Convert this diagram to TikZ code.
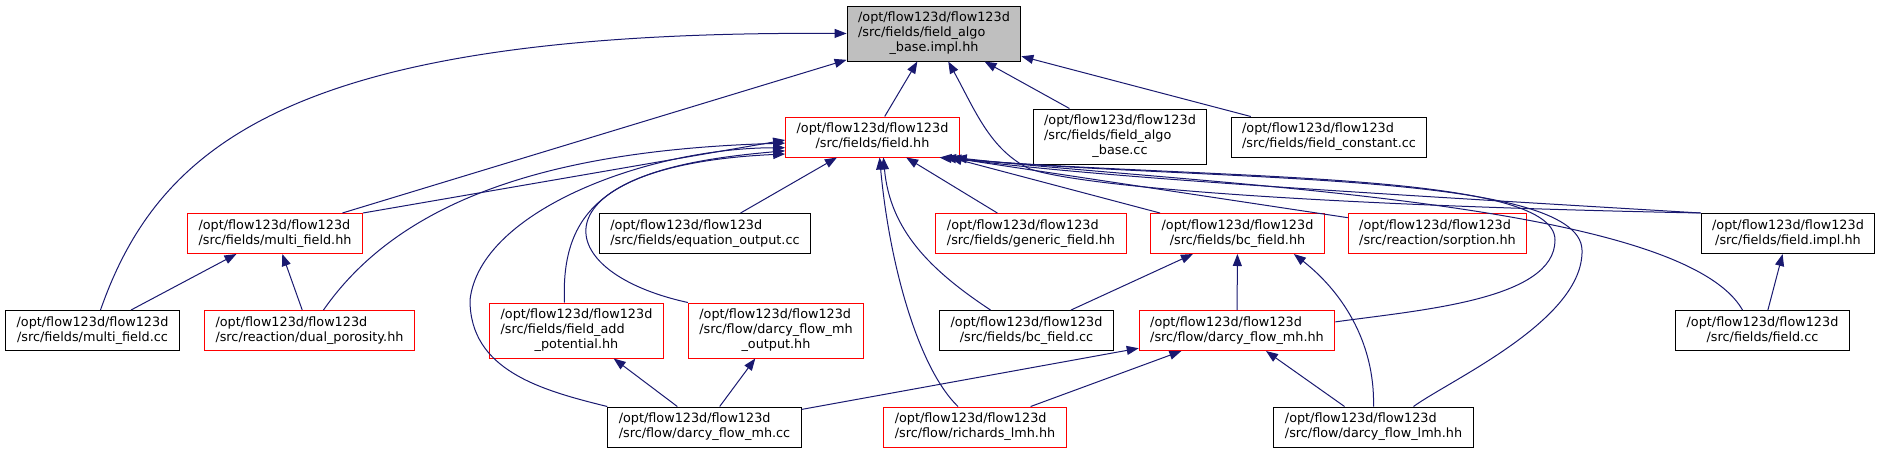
\documentclass[tikz,border=0pt]{standalone}
\usepackage{fontspec}
\setmainfont{DejaVu Sans}
\usetikzlibrary{arrows.meta}
\definecolor{edgeblue}{HTML}{191970}
\definecolor{boxred}{HTML}{FF0000}
\definecolor{rootgray}{HTML}{BFBFBF}
\newcommand{\optpath}{/opt/flow123d/flow123d}
\newcommand{\twol}[2]{\begin{tabular}{@{}c@{}}\multicolumn{1}{@{}l@{}}{#1}\\#2\end{tabular}}
\newcommand{\threel}[3]{\begin{tabular}{@{}c@{}}\multicolumn{1}{@{}l@{}}{#1}\\\multicolumn{1}{@{}l@{}}{#2}\\#3\end{tabular}}
\tikzset{
  file/.style={draw, rectangle, fill=white, line width=1pt, inner xsep=11pt, inner ysep=5pt, font=\fontsize{12.8}{15}\selectfont},
  redfile/.style={file, draw=boxred},
  blackfile/.style={file, draw=black},
  rootfile/.style={file, draw=black, fill=rootgray},
  inc/.style={{Triangle[length=12pt,width=9pt]}-, draw=edgeblue, line width=1pt}
}
\begin{document}
\begin{tikzpicture}[x=1pt, y=-1pt]
        \useasboundingbox (0,0) rectangle (1882,453);
        \node[rootfile] (algoimpl) at (934,33.5) {\threel{\optpath}{/src/fields/field\_algo}{\_base.impl.hh}};
        \node[redfile] (field) at (872.5,137) {\twol{\optpath}{/src/fields/field.hh}};
        \node[blackfile] (algocc) at (1120,136.5) {\threel{\optpath}{/src/fields/field\_algo}{\_base.cc}};
        \node[blackfile] (fconst) at (1329,137) {\twol{\optpath}{/src/fields/field\_constant.cc}};
        \node[redfile] (mfieldhh) at (275,233.5) {\twol{\optpath}{/src/fields/multi\_field.hh}};
        \node[blackfile] (eqout) at (705,233.5) {\twol{\optpath}{/src/fields/equation\_output.cc}};
        \node[redfile] (generic) at (1031,233.5) {\twol{\optpath}{/src/fields/generic\_field.hh}};
        \node[redfile] (bchh) at (1237.5,233.5) {\twol{\optpath}{/src/fields/bc\_field.hh}};
        \node[redfile] (sorption) at (1437.5,233.5) {\twol{\optpath}{/src/reaction/sorption.hh}};
        \node[blackfile] (fimpl) at (1788,233.5) {\twol{\optpath}{/src/fields/field.impl.hh}};
        \node[blackfile] (mfieldcc) at (92.5,330.5) {\twol{\optpath}{/src/fields/multi\_field.cc}};
        \node[redfile] (dual) at (309.5,330.5) {\twol{\optpath}{/src/reaction/dual\_porosity.hh}};
        \node[redfile] (addpot) at (576.5,330.5) {\threel{\optpath}{/src/fields/field\_add}{\_potential.hh}};
        \node[redfile] (mhout) at (776,330.5) {\threel{\optpath}{/src/flow/darcy\_flow\_mh}{\_output.hh}};
        \node[blackfile] (bccc) at (1026.5,330.5) {\twol{\optpath}{/src/fields/bc\_field.cc}};
        \node[redfile] (mhhh) at (1237,330.5) {\twol{\optpath}{/src/flow/darcy\_flow\_mh.hh}};
        \node[blackfile] (fieldcc) at (1762.5,330.5) {\twol{\optpath}{/src/fields/field.cc}};
        \node[blackfile] (mhcc) at (704.5,427) {\twol{\optpath}{/src/flow/darcy\_flow\_mh.cc}};
        \node[redfile] (richards) at (975,427) {\twol{\optpath}{/src/flow/richards\_lmh.hh}};
        \node[blackfile] (lmh) at (1373.5,427) {\twol{\optpath}{/src/flow/darcy\_flow\_lmh.hh}};

        \draw[inc] (algoimpl.west) .. controls (300,30) and (160,140) .. ([xshift=8pt]mfieldcc.north);
        \draw[inc] (algoimpl) -- (mfieldhh);
        \draw[inc] (algoimpl) -- (field);
        \draw[inc] (algoimpl) -- (algocc);
        \draw[inc] (algoimpl) -- (fconst);
        \draw[inc] (algoimpl.-63) .. controls (975,110) and (990,150) .. (1030,169) .. controls (1080,186) and (1300,205) .. (fimpl.north west);

        \draw[inc] (field.182) -- (mfieldhh.north east);
        \draw[inc] (field.184) .. controls (550,150) and (400,200) .. ([xshift=14pt]dual.north);
        \draw[inc] (field.187) .. controls (650,148) and (480,210) .. (470,300) .. controls (470,370) and (540,390) .. (mhcc.north west);
        \draw[inc] (field.189) .. controls (620,165) and (560,200) .. ([xshift=-12pt]addpot.north);
        \draw[inc] (field.191) .. controls (540,165) and (540,270) .. (mhout.north west);
        \draw[inc] (field) -- (eqout);
        \draw[inc] (field) -- (generic);
        \draw[inc] (field) -- (bchh);
        \draw[inc] (field.-15) -- (sorption.170);
        \draw[inc] (field.-62) .. controls (890,230) and (930,270) .. ([xshift=-36pt]bccc.north);
        \draw[inc] (field.-71) .. controls (890,270) and (920,370) .. ([xshift=-17pt]richards.north);
        \draw[inc] (field.-15) .. controls (1100,178) and (1400,195) .. (fimpl.north west);
        \draw[inc] (field.-14) .. controls (1200,185) and (1680,200) .. ([xshift=-20pt]fieldcc.north);
        \draw[inc] (field.-16) .. controls (1200,182) and (1580,170) .. (1582,250) .. controls (1584,320) and (1450,380) .. ([xshift=40pt]lmh.north);
        \draw[inc] (field.-17) .. controls (1200,180) and (1555,170) .. (1555,240) .. controls (1555,300) and (1420,310) .. (mhhh.5);

        \draw[inc] (bchh) -- (bccc);
        \draw[inc] (bchh) -- (mhhh);
        \draw[inc] (bchh.-20) .. controls (1340,290) and (1375,340) .. (lmh.north);

        \draw[inc] (mhhh) -- (mhcc);
        \draw[inc] (mhhh) -- (richards);
        \draw[inc] (mhhh) -- (lmh);

        \draw[inc] (mfieldhh) -- (mfieldcc);
        \draw[inc] (mfieldhh) -- (dual);
        \draw[inc] (addpot) -- (mhcc);
        \draw[inc] (mhout) -- (mhcc);
        \draw[inc] (fimpl) -- (fieldcc);
\end{tikzpicture}
\end{document}
